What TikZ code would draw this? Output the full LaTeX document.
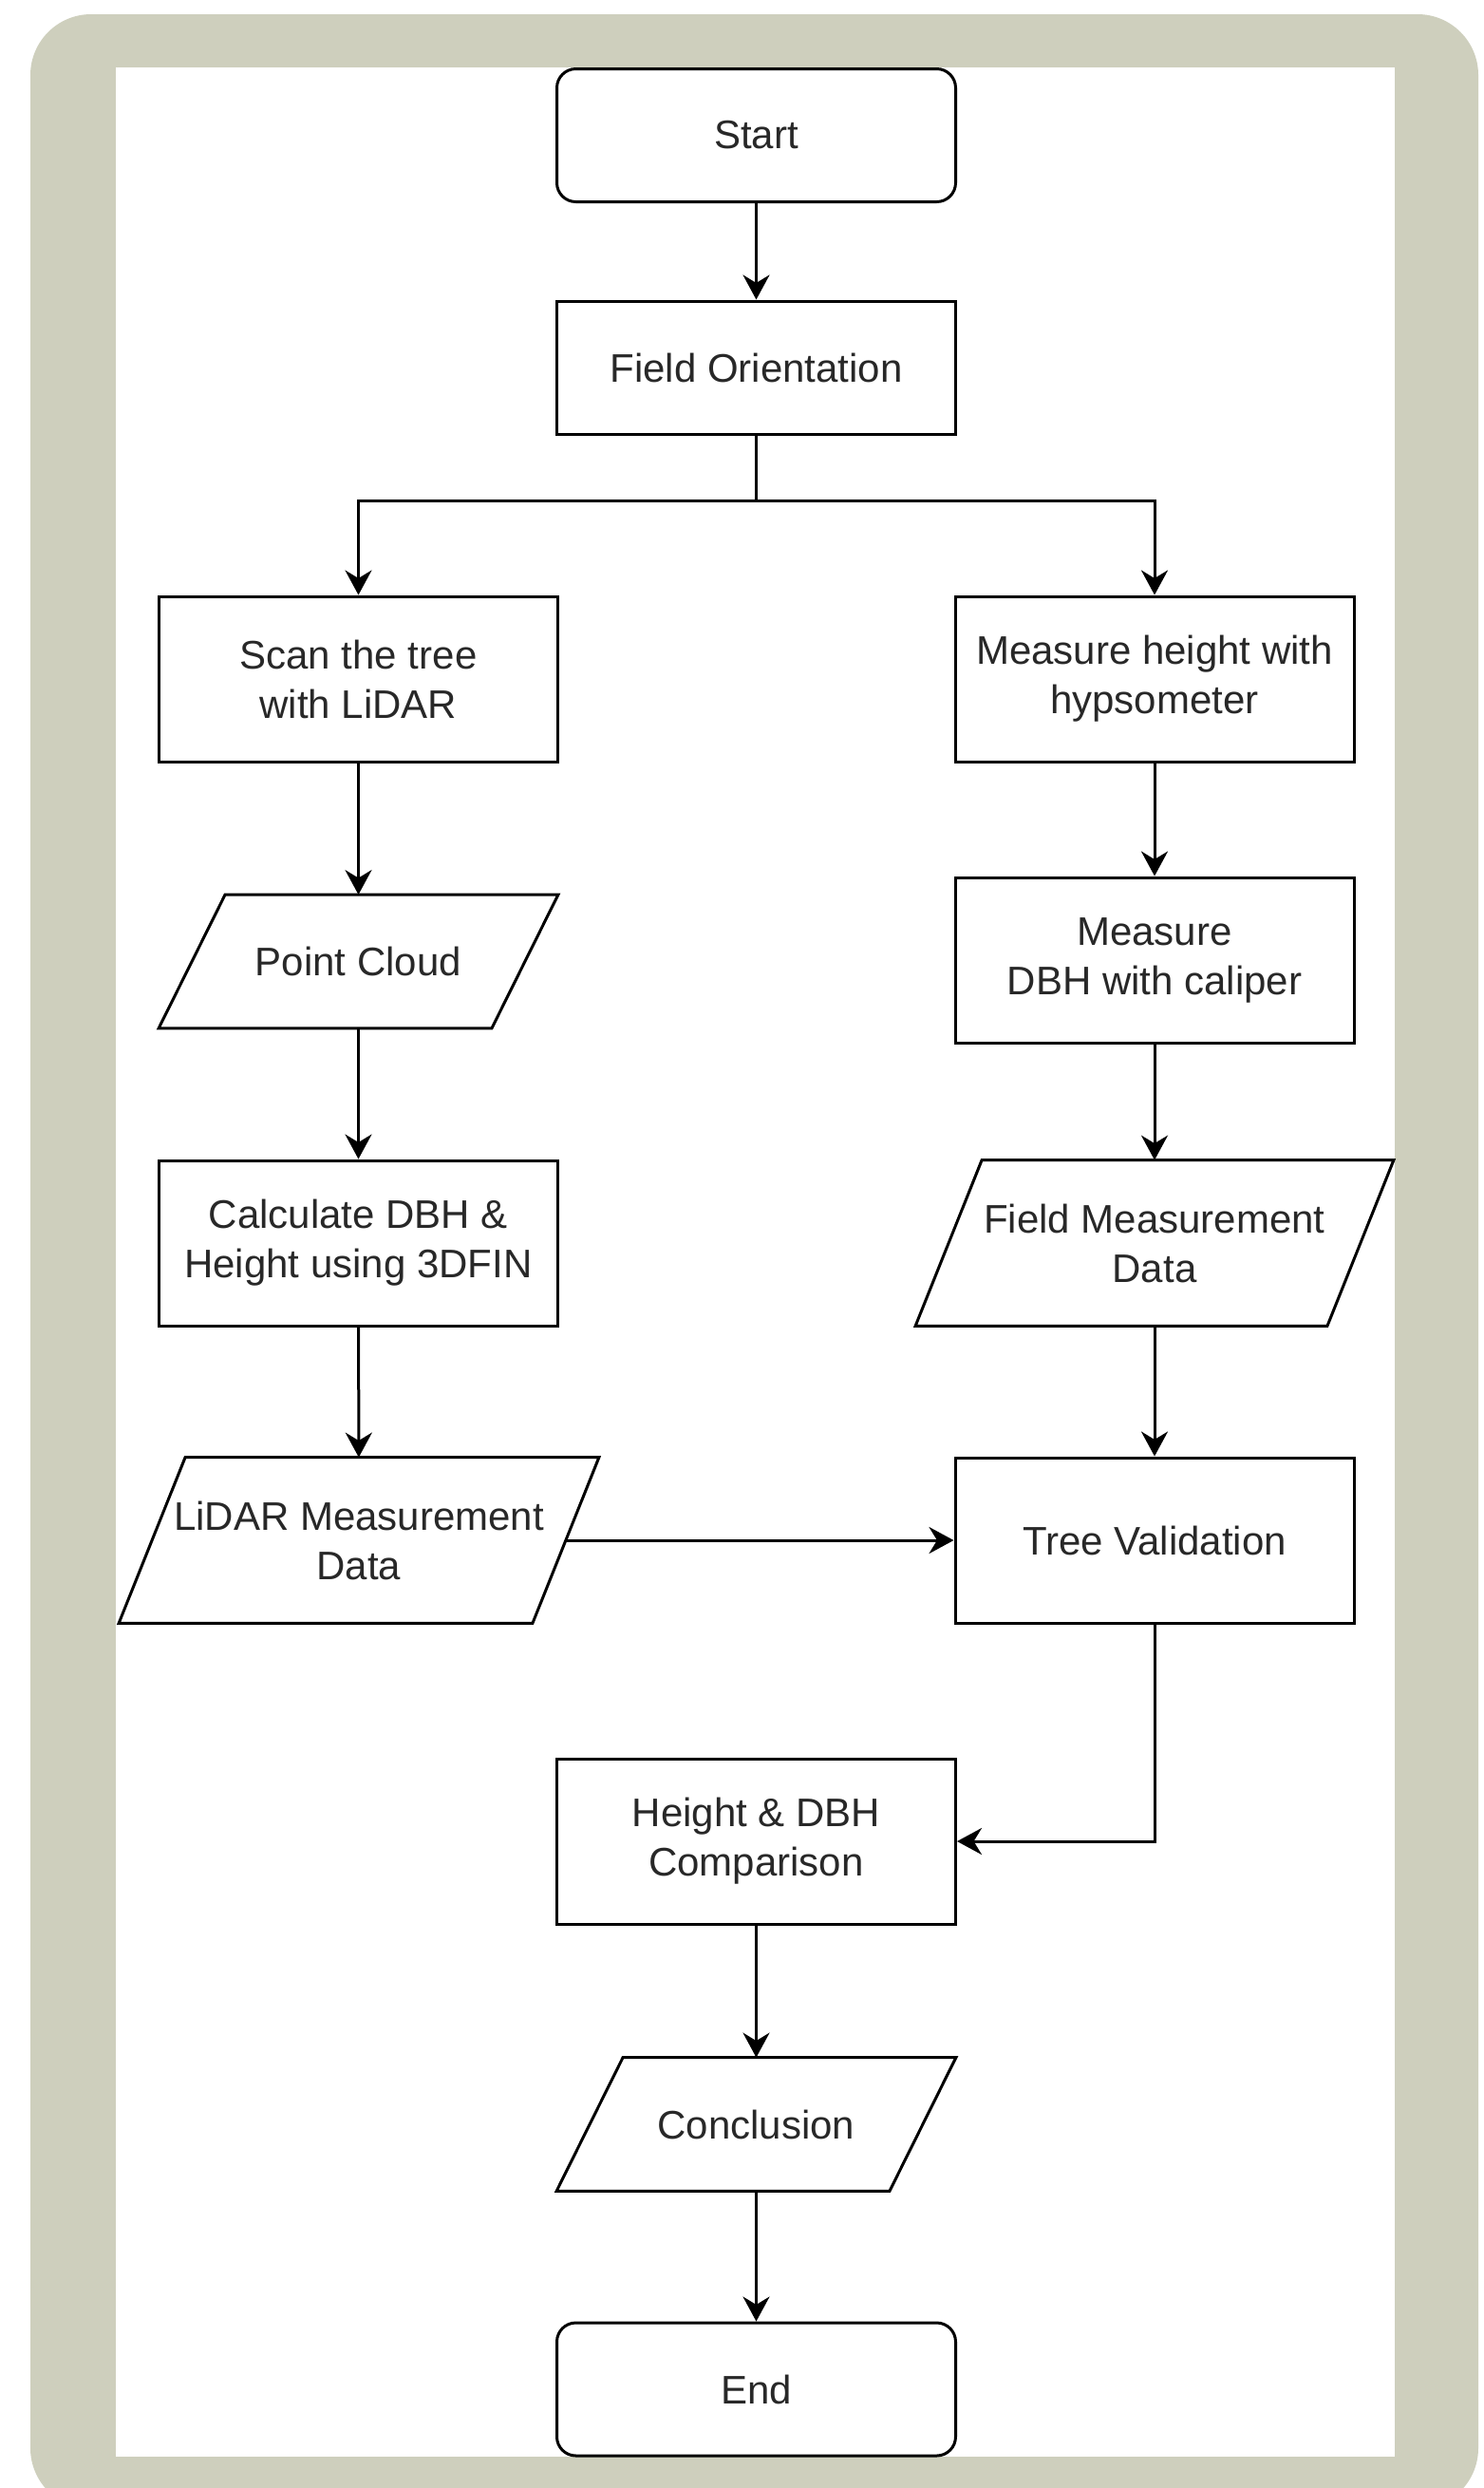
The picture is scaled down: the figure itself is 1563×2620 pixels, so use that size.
\documentclass[tikz,border=0pt]{standalone}
\usepackage{fontspec}
\setmainfont{Liberation Sans}
\usepackage{tikz}
\usetikzlibrary{arrows.meta}

\definecolor{framegray}{RGB}{206,207,189}
\definecolor{inkgray}{RGB}{40,40,40}

\begin{document}
\begin{tikzpicture}[
    x=0.5pt, y=-0.5pt,
    every node/.style={text=inkgray, font=\fontsize{21pt}{26pt}\selectfont, align=center},
    procbox/.style={draw=black, line width=1.5pt, fill=white, minimum width=210pt, minimum height=87pt, inner sep=0pt},
    termbox/.style={procbox, rounded corners=10pt, minimum height=70pt},
    databox/.style={minimum width=210pt, minimum height=87pt, inner sep=0pt},
    slanted/.style={draw=black, line width=1.5pt},
    flow/.style={line width=1.5pt, -{Stealth[length=13pt, width=14pt]}}
    ]
    \clip (0, 0) rectangle (1563, 2620);
    \fill[framegray, rounded corners=32pt] (32, 15) rectangle (1557, 2642);
    \fill[white] (122, 71) rectangle (1469, 2587);

    % middle column
    \node[termbox] (start) at (796.5, 142.5) {Start};
    \node[procbox, minimum height=70pt] (orient) at (796.5, 387) {Field Orientation};
    \coordinate (split) at (796.5, 527);

    % LiDAR side
    \node[procbox] (scan) at (377.5, 715) {Scan the tree\\with LiDAR};
    \node[databox, minimum height=70pt] (cloud) at (377.5, 1012.5) {Point Cloud};
    \node[procbox] (calc) at (377.5, 1309) {Calculate DBH \&\\Height using 3DFIN};
    \node[databox, minimum width=252.5pt] (lidardata) at (378, 1622) {LiDAR Measurement\\Data};

    % field side
    \node[procbox] (hypso) at (1216, 715) {Measure height with\\hypsometer};
    \node[procbox] (caliper) at (1216, 1011) {Measure\\DBH with caliper};
    \node[databox, minimum width=251.5pt] (fielddata) at (1216, 1309) {Field Measurement\\Data};
    \node[procbox] (valid) at (1216, 1622) {Tree Validation};

    \node[procbox] (compare) at (796.5, 1939) {Height \& DBH\\Comparison};
    \node[databox, minimum height=70pt] (concl) at (796.5, 2237) {Conclusion};
    \node[termbox] (end) at (796.5, 2516) {End};

    % data shapes
    \foreach \n in {cloud, lidardata, fielddata, concl}
        \draw[slanted] ([xshift=35pt]\n.north west) -- (\n.north east)
            -- ([xshift=-35pt]\n.south east) -- (\n.south west) -- cycle;

    \draw[flow] (start) -- (orient);
    \draw[line width=1.5pt] (orient) -- (split);
    \draw[flow] (split) -| (scan);
    \draw[flow] (split) -| (hypso);
    \draw[flow] (scan) -- (cloud);
    \draw[flow] (cloud) -- (calc);
    \draw[flow] (calc) -- (lidardata);
    \draw[flow] (hypso) -- (caliper);
    \draw[flow] (caliper) -- (fielddata);
    \draw[flow] (fielddata) -- (valid);
    \draw[flow] ([xshift=-17.5pt]lidardata.east) -- (valid);
    \draw[flow] (valid) |- (compare);
    \draw[flow] (compare) -- (concl);
    \draw[flow] (concl) -- (end);
  \end{tikzpicture}
\end{document}
